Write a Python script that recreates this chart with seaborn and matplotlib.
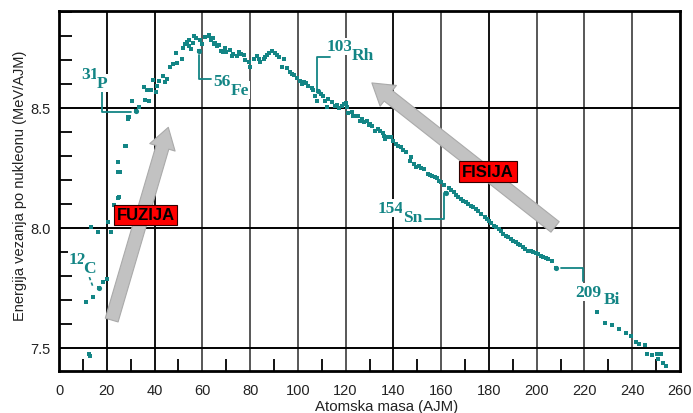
import numpy as np
import pandas as pd
import matplotlib
matplotlib.use("Agg")
import matplotlib.pyplot as plt
import seaborn as sns
from matplotlib.patches import FancyArrowPatch

# ---------------- data ----------------
mass_number = [
    11.4, 12.5, 12.9, 14.4, 16.6, 18.5, 20.0, 13.2, 16.3, 21.8, 20.7, 23.2, 24.5, 25.2,
    24.9, 25.5, 24.8, 27.5, 27.9, 28.9, 29.0, 29.4, 30.6, 32.3, 33.3, 36.0, 37.8, 35.6,
    36.9, 38.5, 40.5, 41.2, 39.5, 41.9, 43.6, 45.2, 44.5, 46.6, 47.9, 49.5, 51.7, 49.0,
    51.9, 52.6, 54.4, 54.6, 56.0, 56.6, 55.3, 58.6, 60.0, 61.1, 62.6, 63.6, 65.4, 67.1,
    68.6, 62.9, 65.0, 66.2, 67.9, 70.1, 71.5, 73.0, 74.4, 75.4, 77.3, 78.0, 79.4, 80.1,
    81.5, 82.9, 84.3, 85.7, 87.1, 89.2, 90.3, 92.0, 94.0, 93.3, 95.4, 96.8, 98.2, 99.6,
    100.9, 102.4, 104.2, 105.8, 108.6, 107.2, 107.9, 110.7, 112.5, 112.1, 114.5, 116.3,
    118.3, 120.0, 121.1, 123.2, 125.3, 126.7, 128.8, 130.2, 120.4, 122.5, 124.6, 126.0,
    131.0, 132.4, 134.5, 136.6, 136.0, 138.8, 140.9, 143.0, 145.1, 146.9, 147.2, 148.6,
    150.7, 152.8, 154.6, 156.2, 158.3, 160.1, 162.0, 163.1, 165.2, 167.2, 169.3, 171.3,
    173.4, 175.4, 178.2, 180.0, 182.1, 184.1, 186.1, 188.1, 190.2, 192.2, 194.3, 196.4,
    198.6, 200.7, 202.8, 204.9, 206.4, 208.2, 225.3, 228.8, 231.5, 234.4, 237.4, 239.6,
    241.6, 243.0, 245.4, 246.3, 248.3, 250.4, 252.0, 250.8, 252.8, 254.0,
    53.5, 57.5, 59.2, 64.3, 69.3, 72.6, 76.2, 83.6, 86.4, 88.0, 91.2, 97.5, 101.6, 103.5,
    106.5, 109.5, 111.3, 115.4, 117.2, 119.2, 127.7, 129.6, 133.4, 135.6, 137.7, 139.8,
    142.0, 144.0, 149.6, 151.7, 155.4, 157.3, 159.2, 161.0, 164.1, 166.2, 168.3, 170.3,
    172.3, 174.4, 176.8, 179.1, 181.0, 183.1, 185.1, 187.1, 189.1, 191.2, 193.2, 195.3,
    197.5, 199.6, 201.7, 203.8,
]
binding_energy = [
    7.690, 7.475, 7.466, 7.711, 7.750, 7.774, 7.787, 8.003, 7.982, 7.985, 8.024, 8.096, 8.125, 8.128,
    8.232, 8.232, 8.274, 8.343, 8.343, 8.454, 8.461, 8.463, 8.530, 8.489, 8.503, 8.535, 8.530, 8.586,
    8.576, 8.575, 8.568, 8.593, 8.617, 8.614, 8.632, 8.621, 8.607, 8.670, 8.683, 8.688, 8.704, 8.728,
    8.749, 8.767, 8.760, 8.785, 8.771, 8.801, 8.746, 8.736, 8.767, 8.795, 8.801, 8.783, 8.771, 8.763,
    8.732, 8.804, 8.767, 8.757, 8.739, 8.732, 8.743, 8.725, 8.715, 8.732, 8.721, 8.701, 8.690, 8.670,
    8.704, 8.715, 8.693, 8.704, 8.721, 8.739, 8.728, 8.711, 8.704, 8.670, 8.665, 8.649, 8.637, 8.624,
    8.614, 8.607, 8.593, 8.582, 8.572, 8.549, 8.530, 8.549, 8.538, 8.503, 8.526, 8.513,
    8.507, 8.521, 8.479, 8.468, 8.468, 8.454, 8.447, 8.433, 8.503, 8.482, 8.468, 8.447,
    8.426, 8.405, 8.405, 8.371, 8.385, 8.378, 8.350, 8.336, 8.315, 8.280, 8.295, 8.267,
    8.260, 8.246, 8.225, 8.215, 8.207, 8.190, 8.145, 8.165, 8.149, 8.128, 8.114, 8.100,
    8.086, 8.072, 8.045, 8.030, 8.010, 7.996, 7.975, 7.961, 7.947, 7.933, 7.920, 7.905,
    7.899, 7.892, 7.878, 7.871, 7.861, 7.833, 7.649, 7.604, 7.596, 7.579, 7.561, 7.549,
    7.526, 7.517, 7.513, 7.475, 7.471, 7.474, 7.476, 7.454, 7.437, 7.426,
    8.776, 8.790, 8.782, 8.790, 8.748, 8.718, 8.724, 8.705, 8.712, 8.730, 8.722, 8.640, 8.600, 8.603,
    8.576, 8.560, 8.530, 8.508, 8.498, 8.515, 8.440, 8.428, 8.412, 8.395, 8.380, 8.362,
    8.341, 8.325, 8.255, 8.250, 8.220, 8.210, 8.196, 8.178, 8.158, 8.138, 8.120, 8.106,
    8.093, 8.079, 8.058, 8.038, 8.020, 8.003, 7.986, 7.968, 7.955, 7.940, 7.927, 7.912,
    7.902, 7.895, 7.884, 7.874,
]

# labelled isotopes (drawn as larger dots)
isotope_mass_text = ["31", "56", "103", "154", "209", "12"]
isotope_symbol = ["P", "Fe", "Rh", "Sn", "Bi", "C"]
isotope_mass = [32.3, 58.6, 108.6, 162.0, 208.2, 16.6]
isotope_energy = [8.489, 8.736, 8.572, 8.145, 7.833, 7.750]

x_tick_values = [0, 20, 40, 60, 80, 100, 120, 140, 160, 180, 200, 220, 240, 260]
y_tick_values = [7.5, 8.0, 8.5]
y_tick_labels = ["7.5", "8.0", "8.5"]

x_label = "Atomska masa (AJM)"
y_label = "Energija vezanja po nukleonu (MeV/AJM)"

process_labels = ["FUZIJA", "FISIJA"]

# ---------------- figure ----------------
sns.set_theme(style="white")
plt.rcParams["font.family"] = ["Liberation Sans", "DejaVu Sans"]

W, H = 693, 414
fig = plt.figure(figsize=(W / 100, H / 100), dpi=100)
ax = fig.add_axes([59 / W, 1 - 371.7 / H, (680 - 59) / W, (371.7 - 11.7) / H])

ax.set_xlim(0, 260)
ax.set_ylim(7.405, 8.905)

teal = "#138585"

# grid lines
dark_x = {20, 40, 140, 180}
for xv in x_tick_values[1:-1]:
    ax.axvline(xv, color="#000000" if xv in dark_x else "#4a4a4a", lw=1.3, zorder=1)
for yv in y_tick_values:
    ax.axhline(yv, color="#000000", lw=1.4, zorder=1)

df = pd.DataFrame({"A": mass_number, "E": binding_energy})
sns.scatterplot(data=df, x="A", y="E", ax=ax, marker="s", s=4.8, color=teal,
                linewidth=0, zorder=4, legend=False)
dfi = pd.DataFrame({"A": isotope_mass, "E": isotope_energy})
sns.scatterplot(data=dfi, x="A", y="E", ax=ax, marker="o", s=14, color=teal,
                linewidth=0, zorder=4, legend=False)

# ticks
ax.set_xticks(x_tick_values)
ax.set_xticklabels([str(v) for v in x_tick_values])
ax.set_yticks(y_tick_values)
ax.set_yticklabels(y_tick_labels)
ax.set_xticks(np.arange(10, 260, 20), minor=True)
ax.set_yticks([v for v in np.round(np.arange(7.5, 8.9, 0.1), 1) if v not in (7.5, 8.0, 8.5)], minor=True)
ax.tick_params(axis="both", which="major", length=0, labelsize=10.5, colors="#222222",
               bottom=True, left=True)
ax.tick_params(axis="x", which="major", pad=9)
ax.tick_params(axis="y", which="major", pad=6)
ax.tick_params(axis="both", which="minor", direction="in", length=9, width=1.3, color="black",
               bottom=True, left=True, top=False, right=False)
ax.set_xlabel("")
ax.set_ylabel("")
for s in ax.spines.values():
    s.set_visible(True)
    s.set_color("black")
    s.set_linewidth(2)

# axis titles
fig.text(386.5 / W, 1 - 407 / H, x_label, ha="center", va="center", fontsize=10.8, color="#222222")
fig.text(20 / W, 1 - 186 / H, y_label, ha="center", va="center", rotation=90, fontsize=10.5,
         color="#222222")

# isotope labels
lab_font = dict(family=["Liberation Serif", "DejaVu Serif"], fontweight="bold", color=teal,
                fontsize=12.5, zorder=6, ha="center", va="center")
white_bg = dict(facecolor="white", edgecolor="none", pad=0.5)
num_pos = [(12.98, 8.641), (68.2, 8.612), (117.6, 8.756), (139.0, 8.083), (221.5, 7.733), (7.54, 7.870)]
sym_pos = [(18.0, 8.604), (75.8, 8.575), (127.3, 8.720), (148.0, 8.045), (231.3, 7.704), (12.85, 7.833)]
for t, p in zip(isotope_mass_text, num_pos):
    ax.text(p[0], p[1], t, bbox=white_bg, **lab_font)
for t, p in zip(isotope_symbol, sym_pos):
    ax.text(p[0], p[1], t, bbox=white_bg, **lab_font)

# leader lines
leaders = [
    ([30.0, 18.13, 18.13], [8.482, 8.482, 8.570]),
    ([58.6, 58.6, 63.5], [8.719, 8.620, 8.620]),
    ([107.9, 107.9, 113.5], [8.579, 8.711, 8.711]),
    ([161.3, 161.3, 153.2], [8.145, 8.037, 8.037]),
    ([210.0, 219.3, 219.3], [7.833, 7.833, 7.780]),
]
for xs, ys in leaders:
    ax.plot(xs, ys, color=teal, lw=1.3, zorder=5)
ax.plot([12.7, 14.1], [7.795, 7.758], color=teal, lw=1.2, ls=(0, (2, 1.5)), zorder=5)

# big process arrows
arrow_style = "simple,head_length=0.75,head_width=0.95,tail_width=0.48"
for (x0, y0), (x1, y1) in [((22.06, 7.616), (45.76, 8.419)), ((207.7, 8.004), (131.0, 8.604))]:
    arr = FancyArrowPatch((x0, y0), (x1, y1), arrowstyle=arrow_style, mutation_scale=20,
                          facecolor="#c2c2c2", edgecolor="#aaaaaa", lw=0.8, zorder=3,
                          shrinkA=0, shrinkB=0)
    ax.add_patch(arr)

box = dict(facecolor="#ff0000", edgecolor="#300000", pad=2.0, lw=0.8)
ax.text(36.2, 8.054, process_labels[0], fontsize=12, fontweight="bold", color="black",
        ha="center", va="center", bbox=box, zorder=7)
ax.text(179.6, 8.235, process_labels[1], fontsize=12, fontweight="bold", color="black",
        ha="center", va="center", bbox=box, zorder=7)

fig.savefig("out.png", dpi=100)
